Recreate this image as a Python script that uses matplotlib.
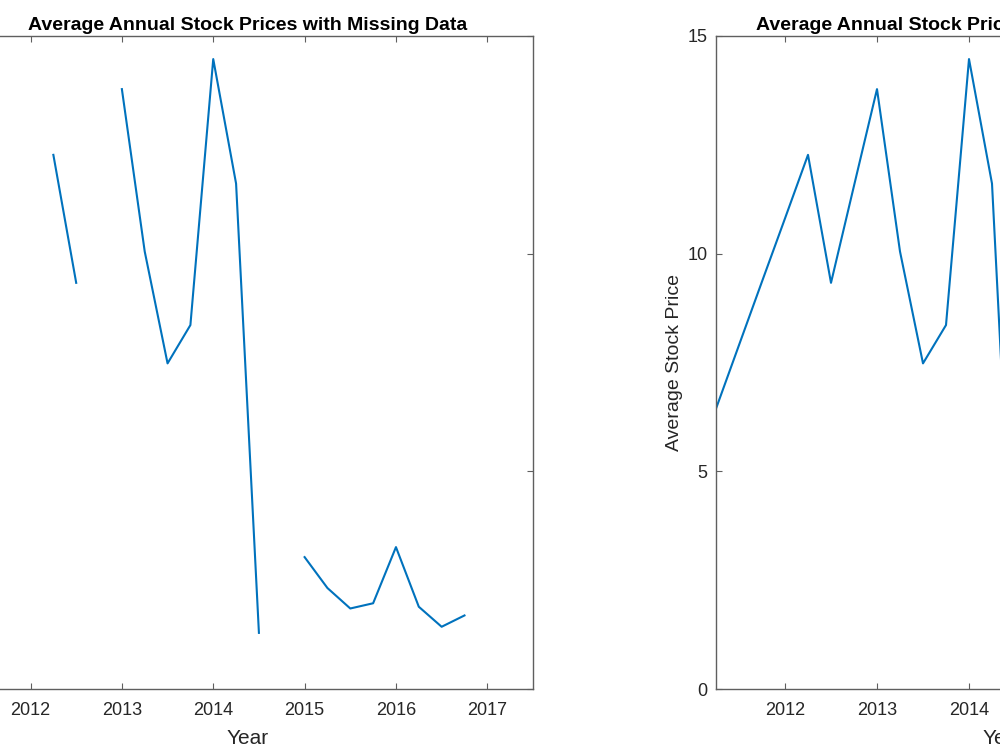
import numpy as np
import matplotlib
matplotlib.use('Agg')
import matplotlib.pyplot as plt

# quarterly years, 2011.25 .. 2016.75
years = [2011.25, 2011.5, 2011.75, 2012.0, 2012.25, 2012.5, 2012.75, 2013.0,
         2013.25, 2013.5, 2013.75, 2014.0, 2014.25, 2014.5, 2014.75, 2015.0,
         2015.25, 2015.5, 2015.75, 2016.0, 2016.25, 2016.5, 2016.75]

# prices with gaps (nan = missing)
prices_missing = [np.nan, np.nan, np.nan, np.nan, 12.27, 9.33, np.nan, 13.78,
                  10.05, 7.48, 8.36, 14.47, 11.61, 1.29, np.nan, 3.03,
                  2.32, 1.85, 1.97, 3.26, 1.89, 1.43, 1.69]

# prices with the gaps filled
prices_filled = [6.44, 7.90, 9.36, 10.81, 12.27, 9.33, 11.56, 13.78,
                 10.05, 7.48, 8.36, 14.47, 11.61, 1.29, 2.16, 3.03,
                 2.32, 1.85, 1.97, 3.26, 1.89, 1.43, 1.69]

year_ticks = [2012, 2013, 2014, 2015, 2016, 2017]
price_ticks = [0, 5, 10, 15]

titles = ['Average Annual Stock Prices with Missing Data',
          'Average Annual Stock Prices with Filled Missing Data']

plt.rcParams['font.family'] = ['Liberation Sans', 'DejaVu Sans']

line_color = '#0072BD'
axis_color = '#5f5f5f'
text_color = '#262626'

fig = plt.figure(figsize=(10, 7.5), dpi=100)
ax1 = fig.add_axes([-0.038, 0.0813, 0.571, 0.8707])
ax2 = fig.add_axes([0.716, 0.0813, 0.575, 0.8707])

for ax, vals, name in [(ax1, prices_missing, titles[0]), (ax2, prices_filled, titles[1])]:
    ax.plot(years, vals, color=line_color, linewidth=1.5)
    ax.set_xlim(2011.25, 2017.5)
    ax.set_ylim(0, 15)
    ax.set_xticks(year_ticks)
    ax.set_yticks(price_ticks)
    ax.tick_params(direction='in', top=True, right=True, length=4.5, width=0.8,
                   color=axis_color, labelcolor=text_color, labelsize=13)
    ax.tick_params(axis='x', pad=9.5)
    ax.tick_params(axis='y', pad=6)
    for sp in ax.spines.values():
        sp.set_color(axis_color)
        sp.set_linewidth(1.0)
    ax.set_title(name, fontsize=14, fontweight='bold', color='black', pad=4.5)
    ax.set_xlabel('Year', fontsize=15, color=text_color, labelpad=7)
    ax.set_ylabel('Average Stock Price', fontsize=14, color=text_color, labelpad=3.5)

fig.savefig('out.png', dpi=100)
